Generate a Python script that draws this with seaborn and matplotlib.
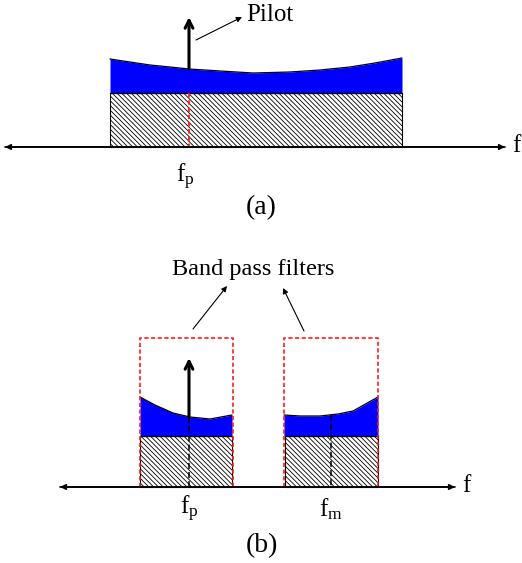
"""Pilot tone + band pass filter sketch, (a) full band and (b) two filtered bands."""
import numpy as np
import matplotlib
matplotlib.use("Agg")
import matplotlib.pyplot as plt
import seaborn as sns

sns.set_theme(style="white")
plt.rcParams.update({
    "font.family": ["Liberation Serif", "DejaVu Serif"],
    "mathtext.fontset": "custom",
    "mathtext.rm": "Liberation Serif",
    "mathtext.it": "Liberation Serif",
    "hatch.linewidth": 0.6,
    "text.color": "black",
})

# ---- panel (a): one wide band (pixel coords of the sketch) ----
A_AXIS_Y = 147
A_BAND = (110, 402)
A_FLOOR_TOP = 93
A_CURVE_X = [110, 130, 150, 170, 189, 220, 253, 290, 320, 350, 375, 402]
A_CURVE_Y = [59, 62, 65, 67, 69, 71, 73, 72, 70, 67, 63, 58]
A_PILOT_X = 189
A_PILOT_TOP = 17

# ---- panel (b): two bands cut out by the filters ----
B_AXIS_Y = 487
B_BANDS = [(140, 232), (285, 378)]
B_FLOOR_TOP = 436
B_CURVES_X = [[140, 155, 173, 190, 210, 232], [284, 300, 320, 338, 353, 378]]
B_CURVES_Y = [[397, 405, 413, 417, 419, 415], [415, 416, 416, 414, 411, 397]]
B_CENTRES = [189, 331]
B_FILTERS = [(140, 233), (284, 378)]
B_FILTER_TOP = 338
B_PILOT_TOP = 358
B_LABELS = [r"$\mathrm{f_p}$", r"$\mathrm{f_m}$"]

BLUE = "#0000ff"
RED = "#ff1a1a"
HATCH = "\\" * 7


def axis_line(ax, x0, x1, y, label_x):
    for a, b in [(x0, x1), (x1, x0)]:
        ax.annotate("", xy=(a, y), xytext=(b, y),
                    arrowprops=dict(arrowstyle="-|>", color="black", lw=1.2,
                                    mutation_scale=8, shrinkA=0, shrinkB=0))
    ax.text(label_x, y - 1, "f", fontsize=18, ha="left", va="center")


def band(ax, x0, x1, floor_top, base, cx, cy):
    ax.fill_between([x0, x1], floor_top, base, facecolor="white",
                    edgecolor="black", hatch=HATCH, lw=0.8)
    ax.fill_between(cx, cy, floor_top, color=BLUE, lw=0)
    ax.plot(cx, cy, color="black", lw=0.9)
    ax.plot([x0, x1], [floor_top, floor_top], color="black", lw=0.9)


def pilot(ax, x, y0, y1):
    ax.annotate("", xy=(x, y1), xytext=(x, y0),
                arrowprops=dict(arrowstyle="->", color="black", lw=2.2,
                                mutation_scale=14, shrinkA=0, shrinkB=0))


fig = plt.figure(figsize=(5.22, 5.63), dpi=100)
ax = fig.add_axes([0, 0, 1, 1])
ax.set_xlim(0, 522)
ax.set_ylim(563, 0)
ax.axis("off")

# (a)
band(ax, A_BAND[0], A_BAND[1], A_FLOOR_TOP, A_AXIS_Y, A_CURVE_X, A_CURVE_Y)
pilot_y = np.interp(A_PILOT_X, A_CURVE_X, A_CURVE_Y)
pilot(ax, A_PILOT_X, pilot_y, A_PILOT_TOP)
ax.plot([A_PILOT_X, A_PILOT_X], [A_FLOOR_TOP, A_AXIS_Y], color=RED,
        lw=1.3, ls=(0, (2.5, 1.5)))
axis_line(ax, 5, 505, A_AXIS_Y, 512)
ax.text(246, 15, "Pilot", fontsize=18, ha="left", va="center")
ax.annotate("", xy=(242, 17), xytext=(196, 40),
            arrowprops=dict(arrowstyle="-|>", color="black", lw=0.8,
                            mutation_scale=8, shrinkA=0, shrinkB=0))
ax.text(A_PILOT_X - 4, 177, r"$\mathrm{f_p}$", fontsize=18, ha="center", va="center")
ax.text(261, 208, "(a)", fontsize=20, ha="center", va="center")

# (b)
for (x0, x1), cx, cy, xc, (fx0, fx1), lab in zip(B_BANDS, B_CURVES_X, B_CURVES_Y,
                                                 B_CENTRES, B_FILTERS, B_LABELS):
    band(ax, x0, x1, B_FLOOR_TOP, B_AXIS_Y, cx, cy)
    top = np.interp(xc, cx, cy)
    ax.plot([xc, xc], [top, B_AXIS_Y], color="black", lw=1.1, ls=(0, (4, 2)))
    ax.plot([fx0, fx0, fx1, fx1], [B_AXIS_Y, B_FILTER_TOP, B_FILTER_TOP, B_AXIS_Y],
            color=RED, lw=1.2, ls=(0, (2.5, 1.5)))
    ax.text(xc, 509, lab, fontsize=18, ha="center", va="center")

top_p = np.interp(B_CENTRES[0], B_CURVES_X[0], B_CURVES_Y[0])
pilot(ax, B_CENTRES[0], top_p, B_PILOT_TOP)
axis_line(ax, 60, 455, B_AXIS_Y, 462)

ax.text(253, 270, "Band pass filters", fontsize=17.5, ha="center", va="center")
for start, end in [((193, 329), (227, 286)), ((304, 331), (283, 288))]:
    ax.annotate("", xy=end, xytext=start,
                arrowprops=dict(arrowstyle="-|>", color="black", lw=0.8,
                                mutation_scale=8, shrinkA=0, shrinkB=0))
ax.text(262, 546, "(b)", fontsize=20, ha="center", va="center")

fig.savefig("out.png", dpi=100)
plt.close(fig)
